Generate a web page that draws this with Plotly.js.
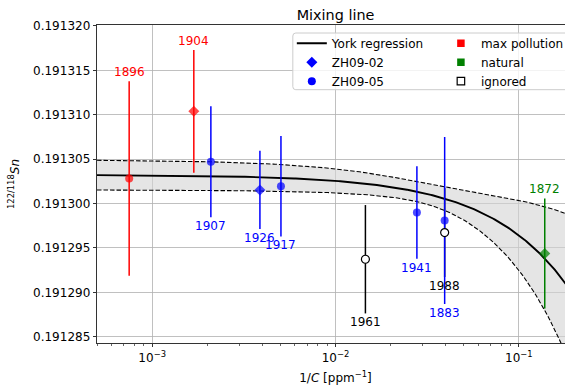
<!DOCTYPE html>
<html><head><meta charset="utf-8">
<script src="https://cdn.plot.ly/plotly-3.0.1.min.js"></script>
<style>html,body{margin:0;padding:0;overflow:hidden;background:#fff}#chart{width:576px;height:388px}</style>
</head><body><div id="chart"></div>
<script>
// ---------------- data ----------------
const years      = ['1896','1904','1907','1926','1917','1961','1941','1883','1988','1872'];
const invC       = [7.49e-4, 1.687e-3, 2.09e-3, 3.87e-3, 5.04e-3, 1.456e-2, 2.78e-2, 3.94e-2, 3.94e-2, 0.1385];
const ratio      = [0.19130283, 0.19131038, 0.19130470, 0.19130153, 0.19130195, 0.19129373, 0.19129899, 0.19129809, 0.19129673, 0.19129437];
const ratioErr   = [1.095e-5, 6.9e-6, 6.25e-6, 4.4e-6, 5.65e-6, 6.1e-6, 5.2e-6, 9.4e-6, 5.0e-6, 6.2e-6];
const sampleType = ['ZH09-05','ZH09-02','ZH09-05','ZH09-02','ZH09-05','ZH09-05','ZH09-05','ZH09-05','ZH09-05','ZH09-02'];
const category   = ['max pollution','max pollution','fit','fit','fit','ignored','fit','fit','ignored','natural'];
// York regression: ratio = intercept + slope * (1/C); band half-width^2 = A + B x + C x^2
const fitIntercept = 0.19130323;
const fitSlope     = -6.8e-5;
const bandVar      = [2.853e-12, -1.282e-10, 2.550e-9];
const xTickVals  = [1e-3, 1e-2, 1e-1];
const xTickText  = ['10<sup>−3</sup>', '10<sup>−2</sup>', '10<sup>−1</sup>'];

// ---------------- styles ----------------
const catColor = {'max pollution':'#ff0000','fit':'#0000ff','natural':'#008000','ignored':'#000000'};
const labelAbove = ['1896','1904','1872'];
const xMin = 5e-4, xMax = 0.2;

// regression curve + band
const cx = [], cy = [], cu = [], cl = [];
const n = 300, l0 = Math.log10(xMin), l1 = Math.log10(xMax);
for (let i = 0; i <= n; i++) {
  const x = Math.pow(10, l0 + (l1 - l0) * i / n);
  const y = fitIntercept + fitSlope * x;
  const w = Math.sqrt(bandVar[0] + bandVar[1] * x + bandVar[2] * x * x);
  cx.push(x); cy.push(y); cu.push(y + w); cl.push(y - w);
}

function pick(cat) {
  const idx = category.map((c, i) => c === cat ? i : -1).filter(i => i >= 0);
  return {
    x: idx.map(i => invC[i]), y: idx.map(i => ratio[i]), e: idx.map(i => ratioErr[i]),
    sym: idx.map(i => sampleType[i] === 'ZH09-02' ? 'diamond' : 'circle'),
    size: idx.map(i => sampleType[i] === 'ZH09-02' ? 8.5 : 8)
  };
}

const traces = [];
traces.push({x: cx, y: cl, mode: 'lines', line: {color: 'black', width: 1.1, dash: '4.5px,2px'}, showlegend: false, hoverinfo: 'skip'});
traces.push({x: cx, y: cu, mode: 'lines', line: {color: 'black', width: 1.1, dash: '4.5px,2px'}, fill: 'tonexty', fillcolor: 'rgba(211,211,211,0.6)', showlegend: false, hoverinfo: 'skip'});
traces.push({x: cx, y: cy, mode: 'lines', line: {color: 'black', width: 1.9}, name: 'York regression', legend: 'legend'});

// ignored: error bars first (below others)
const ig = pick('ignored');
traces.push({x: ig.x, y: ig.y, mode: 'markers', marker: {opacity: 0, size: 8}, error_y: {type: 'data', array: ig.e, visible: true, width: 0, thickness: 1.5, color: '#000000'}, showlegend: false});
for (const cat of ['max pollution', 'fit', 'natural']) {
  const g = pick(cat);
  traces.push({x: g.x, y: g.y, mode: 'markers', marker: {symbol: g.sym, size: g.size, color: catColor[cat], line: {width: 0}},
    error_y: {type: 'data', array: g.e, visible: true, width: 0, thickness: 1.5, color: catColor[cat]}, showlegend: false});
}
traces.push({x: ig.x, y: ig.y, mode: 'markers', marker: {symbol: 'circle', size: 8, color: 'white', line: {color: 'black', width: 1.2}}, showlegend: false});

// legend entries
traces.push({x: [null], y: [null], mode: 'markers', marker: {symbol: 'diamond', size: 8.5, color: '#0000ff'}, name: 'ZH09-02', legend: 'legend'});
traces.push({x: [null], y: [null], mode: 'markers', marker: {symbol: 'circle', size: 8, color: '#0000ff'}, name: 'ZH09-05', legend: 'legend'});
traces.push({x: [null], y: [null], mode: 'markers', marker: {symbol: 'square', size: 7.5, color: '#ff0000'}, name: 'max pollution', legend: 'legend2'});
traces.push({x: [null], y: [null], mode: 'markers', marker: {symbol: 'square', size: 7.5, color: '#008000'}, name: 'natural', legend: 'legend2'});
traces.push({x: [null], y: [null], mode: 'markers', marker: {symbol: 'square', size: 7.5, color: 'white', line: {color: 'black', width: 1.2}}, name: 'ignored', legend: 'legend2'});

// labels
const annotations = years.map((yr, i) => {
  const above = labelAbove.indexOf(yr) >= 0;
  return {
    x: Math.log10(invC[i]), y: above ? ratio[i] + ratioErr[i] : ratio[i] - ratioErr[i],
    xref: 'x', yref: 'y', text: yr, showarrow: false,
    yanchor: above ? 'bottom' : 'top', xanchor: 'center',
    font: {family: 'DejaVu Sans', size: 12, color: catColor[category[i]]}
  };
});

const minorVals = [];
for (let e = -4; e <= -1; e++) for (let d = 2; d <= 9; d++) minorVals.push(d * Math.pow(10, e));

// plot geometry (px)
const W = 576, H = 388, L = 97, R = 2.3, T = 25.3, B = 44.7;
const PW = W - L - R, PH = H - T - B;
const px = v => (v - L) / PW, py = v => (H - B - v) / PH;

// rounded legend frame
const fx0 = px(292.7), fx1 = px(590), fy0 = py(90), fy1 = py(33.3), rx = 3 / PW, ry = 3 / PH;
const framePath = `M ${fx0 + rx} ${fy1} L ${fx1} ${fy1} L ${fx1} ${fy0} L ${fx0 + rx} ${fy0} Q ${fx0} ${fy0} ${fx0} ${fy0 + ry} L ${fx0} ${fy1 - ry} Q ${fx0} ${fy1} ${fx0 + rx} ${fy1} Z`;

const layout = {
  width: W, height: H,
  margin: {l: L, r: R, t: T, b: B, pad: 0},
  paper_bgcolor: 'white', plot_bgcolor: 'white',
  font: {family: 'DejaVu Sans', size: 12, color: 'black'},
  title: {text: 'Mixing line', font: {size: 14.4, color: 'black'}, x: 0.5, xref: 'paper', xanchor: 'center', y: 1 - 15 / H, yref: 'container', yanchor: 'middle'},
  xaxis: {
    type: 'log', range: [Math.log10(xMin), Math.log10(xMax)],
    tickmode: 'array', tickvals: xTickVals, ticktext: xTickText,
    ticks: 'outside', ticklen: 3.5, tickwidth: 0.8, tickcolor: 'black',
    showline: true, linecolor: 'black', linewidth: 0.8, mirror: true,
    showgrid: true, gridcolor: '#b0b0b0', gridwidth: 0.8, zeroline: false,
    minor: {tickmode: 'array', tickvals: minorVals, ticks: 'outside', ticklen: 2, tickwidth: 0.6, tickcolor: 'black', showgrid: false},
    title: {text: '1/<i>C</i> [ppm<sup>−1</sup>]', font: {size: 12}, standoff: 9}
  },
  yaxis: {
    range: [0.1912843, 0.1913201], tickmode: 'linear', tick0: 0.191285, dtick: 5e-6, tickformat: '.6f',
    ticks: 'outside', ticklen: 3.5, tickwidth: 0.8, tickcolor: 'black',
    showline: true, linecolor: 'black', linewidth: 0.8, mirror: true,
    showgrid: true, gridcolor: '#b0b0b0', gridwidth: 0.8, zeroline: false,
    title: {text: '<sup>122/118</sup><i>Sn</i>', font: {size: 12}, standoff: 10}
  },
  legend: {x: px(291.7), xanchor: 'left', y: py(29), yanchor: 'top', traceorder: 'normal', bgcolor: 'rgba(0,0,0,0)', borderwidth: 0, font: {size: 12}, itemwidth: 30, tracegroupgap: 0},
  legend2: {x: px(440.7), xanchor: 'left', y: py(29), yanchor: 'top', traceorder: 'normal', bgcolor: 'rgba(0,0,0,0)', borderwidth: 0, font: {size: 12}, itemwidth: 30, tracegroupgap: 0},
  shapes: [{type: 'path', xref: 'paper', yref: 'paper', path: framePath, fillcolor: 'rgba(255,255,255,0.8)', line: {color: '#cccccc', width: 1}, layer: 'above'}],
  annotations: annotations,
  showlegend: true
};

Plotly.newPlot('chart', traces, layout, {displayModeBar: false, staticPlot: true});
</script>
</body></html>
